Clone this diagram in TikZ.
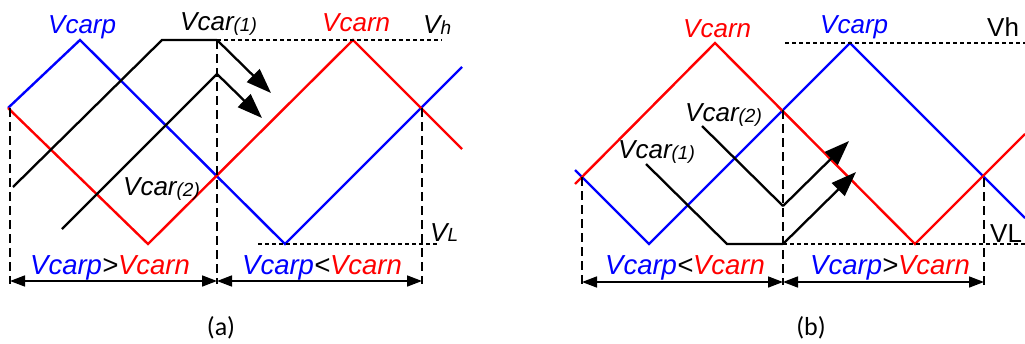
\documentclass[tikz,border=0pt]{standalone}
\usepackage{fontspec}
\setmainfont{Liberation Sans}
\newfontfamily\calib{Carlito}
\usetikzlibrary{arrows.meta}
\newcommand\smallsub[2][-1.5pt]{\raisebox{#1}{\fontsize{19}{22}\selectfont #2}}
\begin{document}
\begin{tikzpicture}[x=1pt,y=-1pt,
  wave/.style={line width=2.4pt,line join=miter},
  carline/.style={line width=2.3pt,black,line join=miter},
  bigarrow/.style={carline,-{Triangle[length=25pt,width=18pt]}},
  guide/.style={line width=1.3pt,dash pattern=on 9pt off 5pt},
  level/.style={line width=1.7pt,dash pattern=on 4pt off 3pt},
  spanarrow/.style={line width=1.6pt,{Triangle[length=15pt,width=11pt]}-{Triangle[length=15pt,width=11pt]}},
  lab/.style={inner sep=0pt,anchor=base west,font=\fontsize{26}{30}\selectfont\itshape},
  blab/.style={inner sep=0pt,anchor=base west,font=\fontsize{27.5}{30}\selectfont\itshape},
  ulab/.style={inner sep=0pt,anchor=base west,font=\fontsize{26}{30}\selectfont},
  caplab/.style={inner sep=0pt,anchor=base,font=\fontsize{26}{30}\selectfont\calib}]
\useasboundingbox (0,0) rectangle (1025,343);
% ---------- panel (a) ----------
\coordinate (aB0) at (8,108);
\coordinate (aB1) at (80,40);
\coordinate (aB2) at (285,244);
\coordinate (aB3) at (462,67);
\coordinate (aR1) at (148,244);
\coordinate (aR2) at (353,40);
\coordinate (aR3) at (462,149);
\draw[wave,blue] (aB0) -- (aB1) -- (aB2) -- (aB3);
\draw[wave,red] (aB0) -- (aR1) -- (aR2) -- (aR3);
% carriers
\coordinate (aC1s) at (13,187);
\coordinate (aC1a) at (162,40);
\coordinate (aC1b) at (217,40);
\coordinate (aC1t) at (271,93);
\coordinate (aC2s) at (62,229);
\coordinate (aC2a) at (217,74);
\coordinate (aC2t) at (262,118);
\draw[carline] (aC1s) -- (aC1a) -- (aC1b);
\draw[bigarrow] (aC1b) -- (aC1t);
\draw[carline] (aC2s) -- (aC2a);
\draw[bigarrow] (aC2a) -- (aC2t);
% levels
\coordinate (aH0) at (217,40);
\coordinate (aH1) at (442,40);
\coordinate (aL0) at (258,244);
\coordinate (aL1) at (437,244);
\draw[level] (aH0) -- (aH1);
\draw[level] (aL0) -- (aL1);
% guides
\coordinate (aG1t) at (10,108);  \coordinate (aG1b) at (10,284);
\coordinate (aG2t) at (217,40);  \coordinate (aG2b) at (217,284);
\coordinate (aG3t) at (422,108); \coordinate (aG3b) at (422,284);
\draw[guide] (aG1t) -- (aG1b);
\draw[guide] (aG2t) -- (aG2b);
\draw[guide] (aG3t) -- (aG3b);
\coordinate (aA1) at (10,281);
\coordinate (aA2) at (217,281);
\coordinate (aA3) at (422,281);
\draw[spanarrow] (aA1) -- (aA2);
\draw[spanarrow] (aA2) -- (aA3);
% labels
\node[lab,blue] (aTp) at (48,33) {Vcarp};
\node[lab] (aTc1) at (180,30) {Vcar\smallsub{(1)}};
\node[lab,red] (aTn) at (322,31) {Vcarn};
\node[lab] (aTh) at (423,33) {V\smallsub[-1pt]{h}};
\node[lab] (aTc2) at (123,195) {Vcar\smallsub{(2)}};
\node[lab] (aTl) at (430,241) {V\smallsub[0pt]{L}};
\node[blab] (aTgt) at (30,274) {\textcolor{blue}{Vcarp}>\textcolor{red}{Vcarn}};
\node[blab] (aTlt) at (242,274) {\textcolor{blue}{Vcarp}<\textcolor{red}{Vcarn}};
\node[caplab] (aCap) at (221,335) {(a)};
% ---------- panel (b) ----------
\coordinate (bB0) at (575,170);
\coordinate (bB1) at (649,244);
\coordinate (bB2) at (850,43);
\coordinate (bB3) at (1025,218);
\coordinate (bR0) at (575,184);
\coordinate (bR1) at (715,43);
\coordinate (bR2) at (915,244);
\coordinate (bR3) at (1025,134);
\draw[wave,blue] (bB0) -- (bB1) -- (bB2) -- (bB3);
\draw[wave,red] (bR0) -- (bR1) -- (bR2) -- (bR3);
% carriers
\coordinate (bC1s) at (646,164);
\coordinate (bC1a) at (727,244);
\coordinate (bC1b) at (783,244);
\coordinate (bC1t) at (856,172);
\coordinate (bC2s) at (702,126);
\coordinate (bC2a) at (783,206);
\coordinate (bC2t) at (849,141);
\draw[carline] (bC1s) -- (bC1a) -- (bC1b);
\draw[bigarrow] (bC1b) -- (bC1t);
\draw[carline] (bC2s) -- (bC2a);
\draw[bigarrow] (bC2a) -- (bC2t);
% levels
\coordinate (bH0) at (785,43);
\coordinate (bH1) at (1025,43);
\coordinate (bL0) at (783,244);
\coordinate (bL1) at (1025,244);
\draw[level] (bH0) -- (bH1);
\draw[level] (bL0) -- (bL1);
% guides
\coordinate (bG1t) at (582,177); \coordinate (bG1b) at (582,285);
\coordinate (bG2t) at (783,110); \coordinate (bG2b) at (783,285);
\coordinate (bG3t) at (984,178); \coordinate (bG3b) at (984,285);
\draw[guide] (bG1t) -- (bG1b);
\draw[guide] (bG2t) -- (bG2b);
\draw[guide] (bG3t) -- (bG3b);
\coordinate (bA1) at (582,282);
\coordinate (bA2) at (783,282);
\coordinate (bA3) at (984,282);
\draw[spanarrow] (bA1) -- (bA2);
\draw[spanarrow] (bA2) -- (bA3);
% labels
\node[lab,red] (bTn) at (683,37) {Vcarn};
\node[lab,blue] (bTp) at (820,33) {Vcarp};
\node[ulab] (bTh) at (987,36) {Vh};
\node[lab] (bTc2) at (685,121) {Vcar\smallsub{(2)}};
\node[lab] (bTc1) at (618,158) {Vcar\smallsub{(1)}};
\node[ulab] (bTl) at (990,242) {VL};
\node[blab] (bTlt) at (605,274) {\textcolor{blue}{Vcarp}<\textcolor{red}{Vcarn}};
\node[blab] (bTgt) at (810,274) {\textcolor{blue}{Vcarp}>\textcolor{red}{Vcarn}};
\node[caplab] (bCap) at (811,335) {(b)};
\end{tikzpicture}
\end{document}
